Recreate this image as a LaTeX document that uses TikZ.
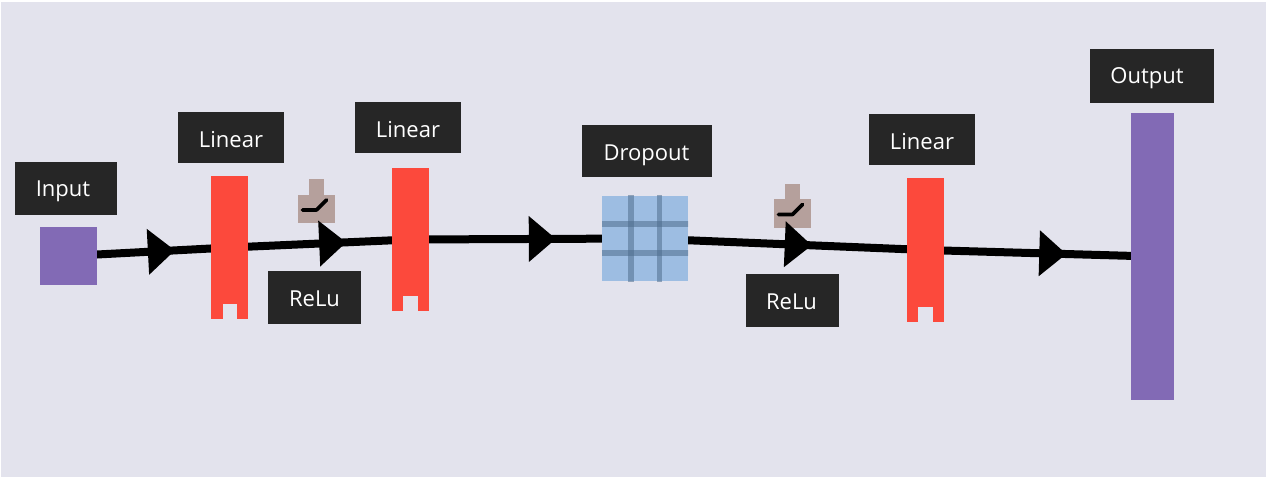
\documentclass[tikz,border=0pt]{standalone}
\usepackage{fontspec}
\setmainfont{Open Sans}
\usetikzlibrary{arrows.meta,decorations.markings,calc}
\pgfdeclarelayer{bgl}
\pgfdeclarelayer{conn}
\pgfsetlayers{bgl,conn,main}
\definecolor{bgc}{HTML}{E3E3ED}
\definecolor{purp}{HTML}{826AB5}
\definecolor{redb}{HTML}{FC493C}
\definecolor{brn}{HTML}{B5A09C}
\definecolor{lbl}{HTML}{262626}
\definecolor{dropc}{HTML}{9DBDE2}
\definecolor{dropl}{HTML}{4F6E8E}
\tikzset{
  x=1pt,y=-1pt,
  base/.style={inner sep=0pt,outer sep=0pt,rectangle},
  label box/.style={base,fill=lbl,text=white,font=\fontsize{22}{24}\selectfont,text height=16pt,text depth=0pt,align=center},
  low/.style={text height=#1},
  square/.style={base,fill=purp},
  redbar/.style={base,fill=redb,minimum width=37.5pt,minimum height=143.5pt,
    path picture={\fill[bgc] ($(path picture bounding box.south)+(-7.2pt,0)$) rectangle ($(path picture bounding box.south)+(7.2pt,15pt)$);}},
  dropbox/.style={base,fill=dropc,minimum width=86pt,minimum height=85.5pt,
    path picture={
      \foreach \o in {-14.3,14.3}{
        \fill[dropl,opacity=.55] ($(path picture bounding box.center)+(\o pt-2.8pt,-50pt)$) rectangle ($(path picture bounding box.center)+(\o pt+2.8pt,50pt)$);
        \fill[dropl,opacity=.55] ($(path picture bounding box.center)+(-50pt,\o pt-2.8pt)$) rectangle ($(path picture bounding box.center)+(50pt,\o pt+2.8pt)$);
      }}},
  relubase/.style={base,fill=brn,minimum width=37.5pt,minimum height=28.5pt},
  relutab/.style={base,fill=brn,minimum width=14.5pt,minimum height=15.5pt},
  switchline/.style={draw=black,line width=3.6pt,line cap=round,line join=round},
  conn/.style={draw=black,line width=8pt},
  flow/.style={conn,postaction={decorate},decoration={markings,mark=at position #1 with {\fill[black] (-27pt,-23pt)--(0pt,0pt)--(-27pt,23pt)--cycle;}}}
}
\begin{document}
\begin{tikzpicture}
\useasboundingbox (0,0) rectangle (1266,478);
\begin{pgfonlayer}{bgl}
\fill[white] (0,0) rectangle (1266,478);
\fill[bgc] (1,2) rectangle (1266,477);
\node[relubase] (r1) at (316.5,209) {};
\node[relutab,anchor=south] (r1t) at (r1.north) {};
\node[relubase] (r2) at (792.5,213.5) {};
\node[relutab,anchor=south] (r2t) at (r2.north) {};
\draw[switchline] ($(r1.center)+(-14pt,-1pt)$) -- ($(r1.center)+(0pt,-1pt)$) -- ($(r1.center)+(10pt,9pt)$);
\draw[switchline] ($(r2.center)+(-14pt,-1pt)$) -- ($(r2.center)+(0pt,-1pt)$) -- ($(r2.center)+(10pt,9pt)$);
\end{pgfonlayer}

\node[square,minimum width=57pt,minimum height=57.5pt] (input) at (68.5,256) {};
\node[redbar] (l1) at (229.7,247.5) {};
\node[redbar] (l2) at (410.3,239.5) {};
\node[dropbox] (drop) at (645,238.5) {};
\node[redbar] (l3) at (925.3,250) {};
\node[square,minimum width=43pt,minimum height=287pt] (output) at (1152.7,256.5) {};

\node[label box,minimum width=102pt,minimum height=53pt] (tinput) at (66,188.5) {Input\hspace*{6pt}};
\node[label box,low=19.5pt,minimum width=106pt,minimum height=51pt] (tl1) at (231,137.5) {Linear};
\node[label box,low=19.5pt,minimum width=106pt,minimum height=51pt] (tl2) at (408,127.5) {Linear};
\node[label box,low=18pt,minimum width=93pt,minimum height=53pt] (tr1) at (314.5,297.5) {ReLu};
\node[label box,low=19.5pt,minimum width=130pt,minimum height=52pt] (tdrop) at (647,151) {Dropout\hspace*{1pt}};
\node[label box,low=18pt,minimum width=93pt,minimum height=53pt] (tr2) at (792.5,300.5) {ReLu\hspace*{2pt}};
\node[label box,low=19.5pt,minimum width=106pt,minimum height=51pt] (tl3) at (922,139.5) {Linear};
\node[label box,minimum width=124pt,minimum height=54pt] (toutput) at (1152,76) {Output\hspace*{10pt}};

\begin{pgfonlayer}{conn}
\draw[flow=.66] (input.center) -- (l1.center);
\draw[flow=.645] (l1.center) -- (l2.center);
\draw[flow=.62] (l2.center) -- (drop.center);
\draw[flow=.595] (drop.center) -- (l3.center);
\draw[flow=.62] (l3.center) -- (output.center);
\end{pgfonlayer}
\end{tikzpicture}
\end{document}
